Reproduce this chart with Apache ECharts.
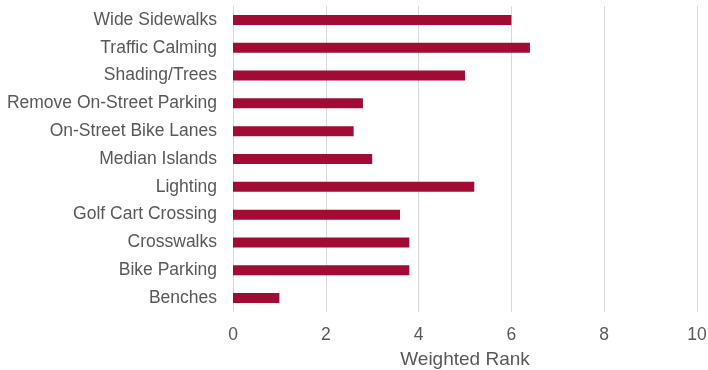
<!DOCTYPE html>
<html>
<head>
<meta charset="utf-8">
<script src="https://cdn.jsdelivr.net/npm/echarts@6/dist/echarts.min.js"></script>
<style>html,body{margin:0;padding:0;background:#fff}#c{width:708px;height:370px}</style>
</head>
<body>
<div id="c"></div>
<script>
var categories = ["Wide Sidewalks","Traffic Calming","Shading/Trees","Remove On-Street Parking","On-Street Bike Lanes","Median Islands","Lighting","Golf Cart Crossing","Crosswalks","Bike Parking","Benches"];
var values = [6.0, 6.4, 5.0, 2.8, 2.6, 3.0, 5.2, 3.6, 3.8, 3.8, 1.0];
var axisName = "Weighted Rank";

var chart = echarts.init(document.getElementById('c'));
chart.setOption({
  animation: false,
  grid: {left: 233, right: 11, top: 6, bottom: 58, containLabel: false, outerBoundsMode: 'none'},
  xAxis: {
    type: 'value', min: 0, max: 10, interval: 2,
    name: axisName, nameLocation: 'middle', nameGap: 38,
    nameTextStyle: {color: '#595959', fontSize: 19, fontFamily: 'Liberation Sans, Arial'},
    axisLine: {show: false}, axisTick: {show: false},
    axisLabel: {color: '#595959', fontSize: 17.5, fontFamily: 'Liberation Sans, Arial', margin: 14},
    splitLine: {show: true, lineStyle: {color: '#d9d9d9', width: 1}}
  },
  yAxis: {
    type: 'category', data: categories, inverse: true,
    axisLine: {show: false}, axisTick: {show: false},
    axisLabel: {color: '#595959', fontSize: 17.5, fontFamily: 'Liberation Sans, Arial', margin: 16}
  },
  series: [{
    type: 'bar', data: values, barWidth: 10,
    itemStyle: {color: '#A20B34'}
  }]
});
</script>
</body>
</html>
